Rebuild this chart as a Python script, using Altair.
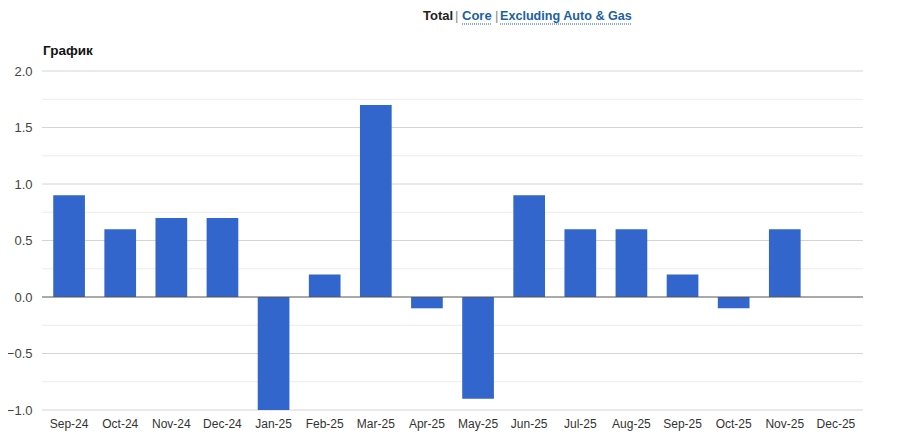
import altair as alt
import pandas as pd

months = ["Sep-24", "Oct-24", "Nov-24", "Dec-24", "Jan-25", "Feb-25", "Mar-25", "Apr-25",
          "May-25", "Jun-25", "Jul-25", "Aug-25", "Sep-25", "Oct-25", "Nov-25", "Dec-25"]
values = [0.9, 0.6, 0.7, 0.7, -1.0, 0.2, 1.7, -0.1, -0.9, 0.9, 0.6, 0.6, 0.2, -0.1, 0.6, 0.0]
major_ticks = [-1.0, -0.5, 0.5, 1.0, 1.5, 2.0]
minor_ticks = [-0.75, -0.25, 0.25, 0.75, 1.25, 1.75]
label_ticks = [-1.0, -0.5, 0.0, 0.5, 1.0, 1.5, 2.0]

df = pd.DataFrame({"month": months, "value": values})

FONT = "Liberation Sans"
W, H = 821, 339
BLUE = "#3366cc"
LINK = "#1c5fa6"
YSCALE = alt.Scale(domain=[-1, 2], nice=False, zero=False)
YAXIS = alt.Axis(values=label_ticks, ticks=False, domain=False, grid=False,
                 format=".1f", labelFont=FONT, labelFontSize=13,
                 labelColor="#444", labelPadding=10, title=None)

x_enc = alt.X("month:N", sort=months, title=None,
              scale=alt.Scale(paddingInner=0.38, paddingOuter=0.22),
              axis=alt.Axis(labelAngle=0, ticks=False, domain=False, grid=False,
                            labelFont=FONT, labelFontSize=12, labelColor="#333",
                            labelPadding=8))

minor = alt.Chart(pd.DataFrame({"g": minor_ticks})).mark_rule(
    color="#ececec", strokeWidth=1).encode(y=alt.Y("g:Q", scale=YSCALE, axis=YAXIS, title=None))
major = alt.Chart(pd.DataFrame({"g": major_ticks})).mark_rule(
    color="#d4d4d4", strokeWidth=1).encode(y=alt.Y("g:Q", scale=YSCALE, axis=YAXIS, title=None))

bars = alt.Chart(df).mark_bar(color=BLUE).encode(
    x=x_enc, y=alt.Y("value:Q", scale=YSCALE, axis=YAXIS, title=None), y2=alt.datum(0))

zero = alt.Chart(pd.DataFrame({"z": [0]})).mark_rule(color="#555", strokeWidth=1).encode(
    y=alt.Y("z:Q", scale=YSCALE, axis=YAXIS, title=None))

def txt(s, x, color, bold=True, size=13, y=-51):
    return alt.Chart(pd.DataFrame({"t": [s]})).mark_text(
        align="left", baseline="alphabetic", font=FONT, fontSize=size,
        fontWeight="bold" if bold else "normal", color=color
    ).encode(x=alt.value(x), y=alt.value(y), text="t:N")

def dotted(x1, x2, y=-47):
    return alt.Chart(pd.DataFrame({"a": [0]})).mark_rule(
        color=LINK, strokeDash=[1, 1], strokeWidth=1
    ).encode(x=alt.value(x1), x2=alt.value(x2), y=alt.value(y))

header = [
    txt("Total", 381, "#222"),
    txt("|", 413, "#888", bold=False),
    txt("Core", 420, LINK),
    dotted(420, 449),
    txt("|", 453, "#888", bold=False),
    txt("Excluding Auto & Gas", 458, LINK, size=12.6),
    dotted(458, 589),
    txt("График", 1, "#111", size=13.5, y=-16),
]

chart = alt.layer(minor, major, bars, zero, *header).properties(
    width=W, height=H,
    autosize=alt.AutoSizeParams(type="none"),
    padding={"left": 34, "top": 63, "right": 29, "bottom": 30},
).configure(background="white", view=alt.ViewConfig(stroke=None))

chart.save("out.html", embed_options={"renderer": "svg", "actions": False})
